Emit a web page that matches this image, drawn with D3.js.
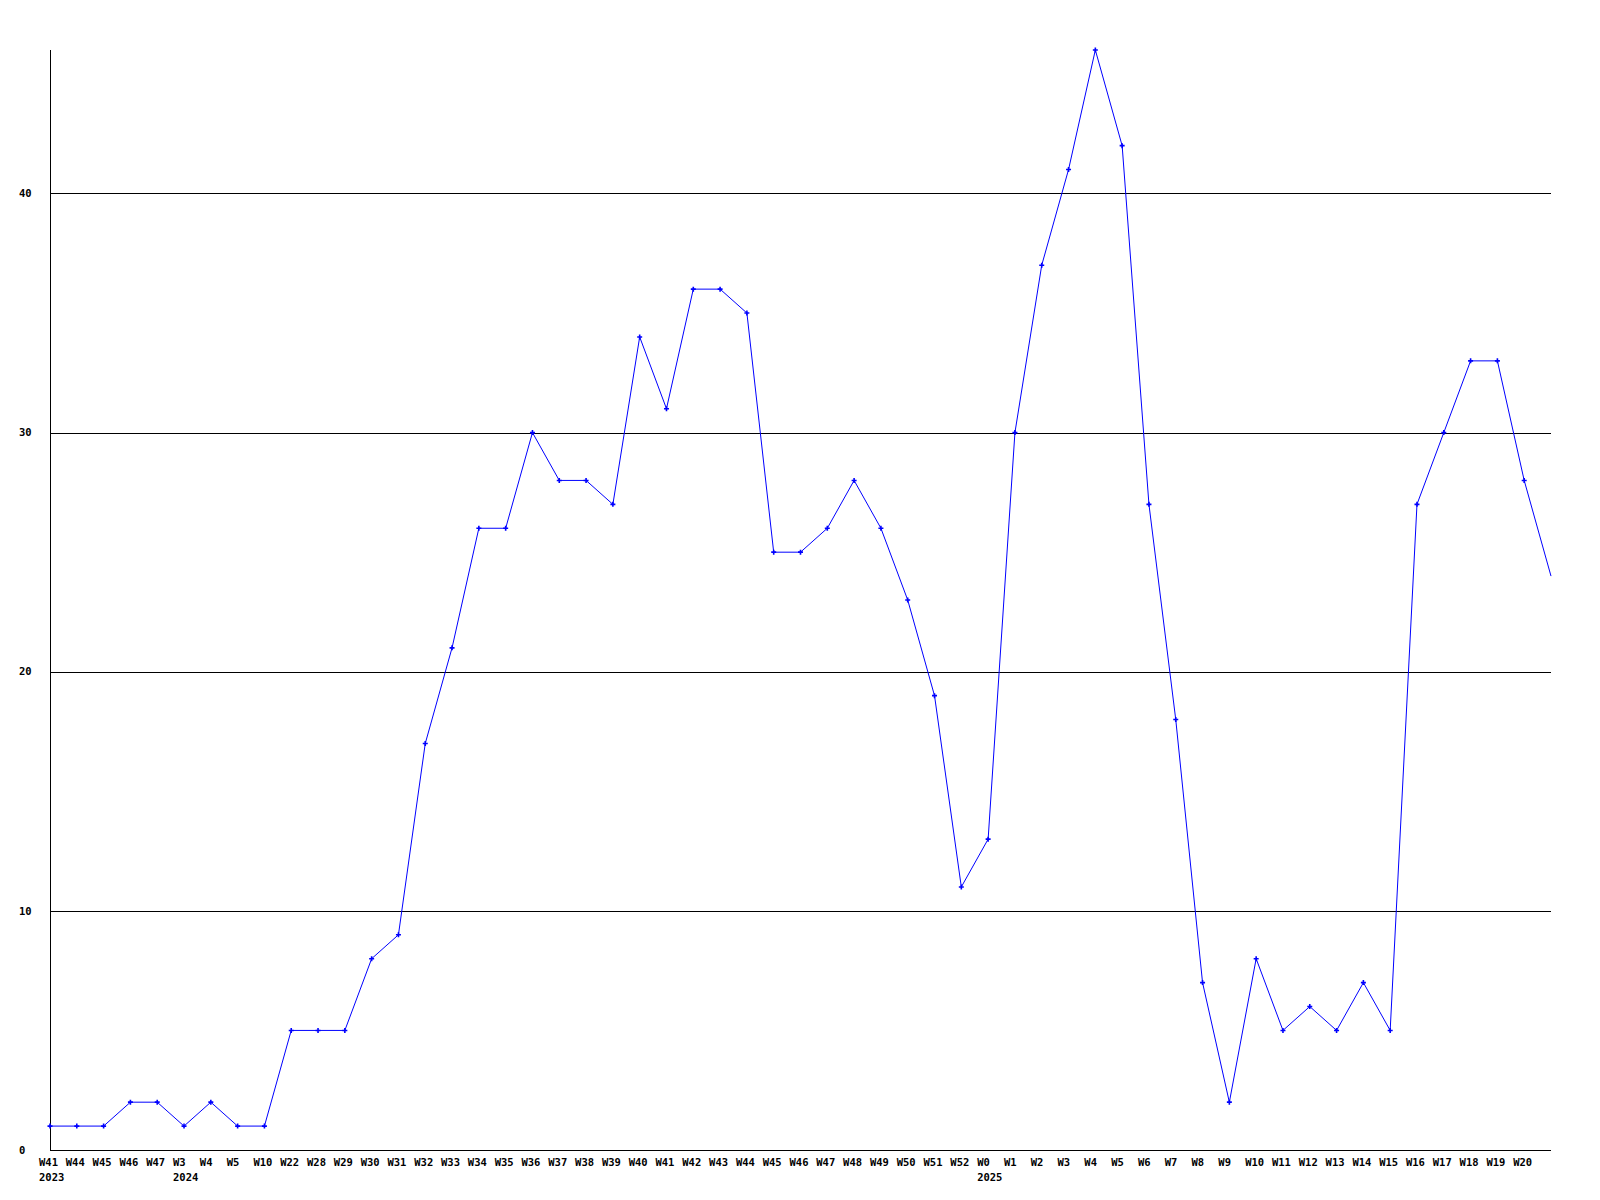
<!DOCTYPE html>
<html>
<head>
<meta charset="utf-8">
<script src="https://cdn.jsdelivr.net/npm/d3@7"></script>
<style>
  html, body { margin: 0; padding: 0; background: #fff; }
  svg { display: block; }
  text { font-family: "DejaVu Sans Mono", monospace; font-weight: bold; font-size: 10.5px; fill: #000; }
</style>
</head>
<body>
<svg id="chart" width="1600" height="1200"></svg>
<script>
// Week labels (one per data point; the last point has no visible label)
const weekLabels = ["W41","W44","W45","W46","W47","W3","W4","W5","W10","W22",
  "W28","W29","W30","W31","W32","W33","W34","W35","W36","W37","W38","W39","W40",
  "W41","W42","W43","W44","W45","W46","W47","W48","W49","W50","W51","W52",
  "W0","W1","W2","W3","W4","W5","W6","W7","W8","W9","W10","W11","W12","W13",
  "W14","W15","W16","W17","W18","W19","W20",""];
// Year labels placed under the first week of each year
const yearLabels = [{index: 0, year: "2023"}, {index: 5, year: "2024"}, {index: 35, year: "2025"}];
// Series values
const values = [1,1,1,2,2,1,2,1,1,5,
  5,5,8,9,17,21,26,26,30,28,28,27,34,
  31,36,36,35,25,25,26,28,26,23,19,11,
  13,30,37,41,46,42,27,18,7,2,8,5,6,5,
  7,5,27,30,33,33,28,24];
const yTicks = [0,10,20,30,40];

const svg = d3.select("#chart");
const mLeft = 50, mRight = 1551, mTop = 50, mBottom = 1150;

const x = d3.scalePoint().domain(d3.range(values.length)).range([mLeft, mRight]);
const y = d3.scaleLinear().domain([0, 46]).range([mBottom, mTop]);

// gridlines
svg.append("g").selectAll("line").data(yTicks.filter(d => d > 0)).join("line")
  .attr("x1", mLeft).attr("x2", mRight)
  .attr("y1", d => Math.round(y(d)) + 0.5).attr("y2", d => Math.round(y(d)) + 0.5)
  .attr("stroke", "#000").attr("stroke-width", 1);

// axes lines
svg.append("line").attr("x1", mLeft + 0.5).attr("x2", mLeft + 0.5).attr("y1", mTop).attr("y2", mBottom)
  .attr("stroke", "#000");
svg.append("line").attr("x1", mLeft).attr("x2", mRight).attr("y1", mBottom + 0.5).attr("y2", mBottom + 0.5)
  .attr("stroke", "#000");

// y tick labels
svg.append("g").selectAll("text").data(yTicks).join("text")
  .attr("x", 19).attr("y", d => y(d)).attr("dy", "0.35em")
  .text(d => d);

// x tick labels
svg.append("g").selectAll("text").data(weekLabels.map((w, i) => ({w, i})).filter(d => d.w)).join("text")
  .attr("x", d => x(d.i) - 11).attr("y", 1162).attr("dy", "0.35em")
  .text(d => d.w);

// year labels
svg.append("g").selectAll("text").data(yearLabels).join("text")
  .attr("x", d => x(d.index) - 11).attr("y", 1177).attr("dy", "0.35em")
  .text(d => d.year);

// line
const line = d3.line().x((d, i) => x(i)).y(d => y(d));
svg.append("path").datum(values).attr("d", line)
  .attr("fill", "none").attr("stroke", "#0000ff").attr("stroke-width", 1);

// markers
svg.append("g").selectAll("path").data(values.slice(0, values.length - 1)).join("path")
  .attr("transform", (d, i) => `translate(${x(i)},${y(d)})`)
  .attr("d", "M-2.5,0H2.5M0,-2.5V2.5")
  .attr("stroke", "#0000ff").attr("stroke-width", 1.6).attr("fill", "none");
</script>
</body>
</html>
